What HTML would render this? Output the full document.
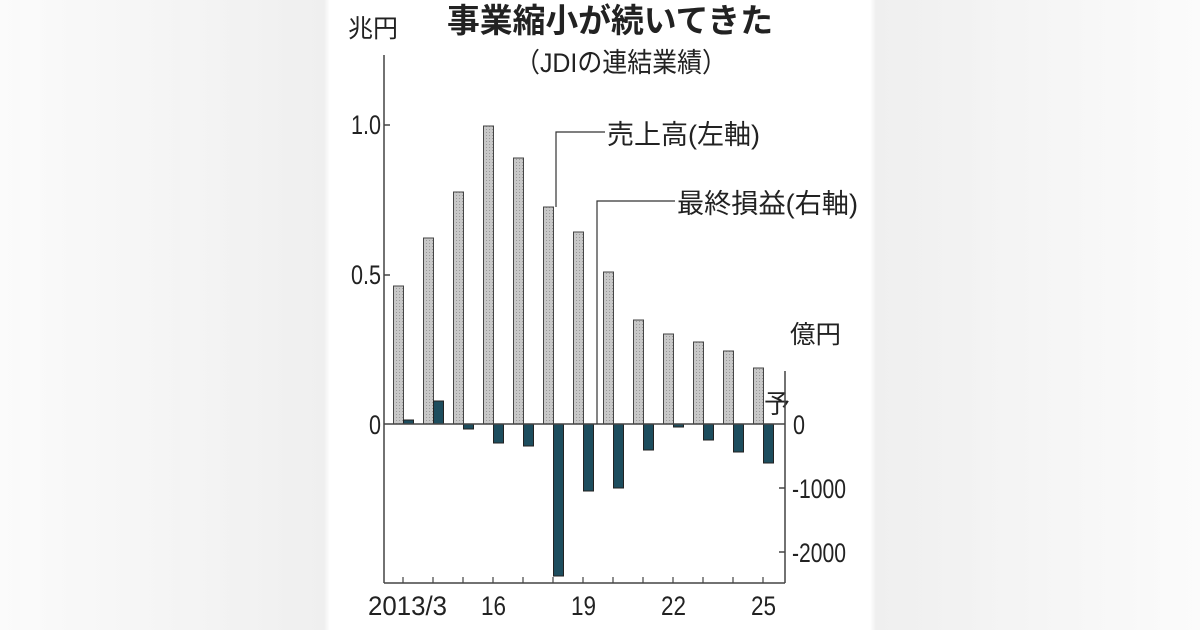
<!DOCTYPE html>
<html><head><meta charset="utf-8"><style>
html,body{margin:0;padding:0;}
body{width:1200px;height:630px;overflow:hidden;background:linear-gradient(90deg,#fbfbfb 0%,#efefef 27%,#fff 27.5%,#fff 72.5%,#efefef 73%,#fbfbfb 100%);}
svg{position:absolute;left:0;top:0;}
text{font-family:"Liberation Sans","Noto Sans CJK JP",sans-serif;fill:#222;}
</style></head><body>
<svg width="1200" height="630" viewBox="0 0 1200 630">
<defs>
<pattern id="dots" width="3" height="3" patternUnits="userSpaceOnUse">
<rect width="3" height="3" fill="#c8c8c8"/><rect width="1" height="1" fill="#9a9a9a"/>
</pattern>
</defs>
<rect x="330" y="0" width="540" height="630" fill="#fff"/>
<text x="610" y="32" font-size="33" font-weight="bold" text-anchor="middle" textLength="326" lengthAdjust="spacingAndGlyphs">事業縮小が続いてきた</text>
<text x="621" y="72" font-size="27" text-anchor="middle" textLength="212" lengthAdjust="spacingAndGlyphs">（JDIの連結業績）</text>
<text x="348" y="37" font-size="25" textLength="50" lengthAdjust="spacingAndGlyphs">兆円</text>
<text x="790" y="343" font-size="25" textLength="51" lengthAdjust="spacingAndGlyphs">億円</text>
<g fill="url(#dots)" stroke="#444" stroke-width="1">
<rect x="393.5" y="286" width="10" height="138"/>
<rect x="423.5" y="238" width="10" height="186"/>
<rect x="453.5" y="192" width="10" height="232"/>
<rect x="483.5" y="126" width="10" height="298"/>
<rect x="513.5" y="158" width="10" height="266"/>
<rect x="543.5" y="207" width="10" height="217"/>
<rect x="573.5" y="232" width="10" height="192"/>
<rect x="603.5" y="272" width="10" height="152"/>
<rect x="633.5" y="320" width="10" height="104"/>
<rect x="663.5" y="334" width="10" height="90"/>
<rect x="693.5" y="342" width="10" height="82"/>
<rect x="723.5" y="351" width="10" height="73"/>
<rect x="753.5" y="368" width="10" height="56"/>
</g>
<g fill="#1d4d5e" stroke="#222" stroke-width="1">
<rect x="403.5" y="420" width="10" height="4"/>
<rect x="433.5" y="401" width="10" height="23"/>
<rect x="463.5" y="424" width="10" height="5"/>
<rect x="493.5" y="424" width="10" height="19"/>
<rect x="523.5" y="424" width="10" height="22"/>
<rect x="553.5" y="424" width="10" height="152"/>
<rect x="583.5" y="424" width="10" height="67"/>
<rect x="613.5" y="424" width="10" height="64"/>
<rect x="643.5" y="424" width="10" height="26"/>
<rect x="673.5" y="424" width="10" height="3"/>
<rect x="703.5" y="424" width="10" height="16"/>
<rect x="733.5" y="424" width="10" height="28"/>
<rect x="763.5" y="424" width="10" height="39"/>
</g>
<rect x="764" y="388" width="20" height="30" fill="#fff"/>
<text x="764" y="413" font-size="26">予</text>
<g stroke="#444" stroke-width="1.5" fill="none">
<line x1="384" y1="55" x2="384" y2="583"/>
<line x1="384" y1="583" x2="785" y2="583"/>
<line x1="785" y1="371" x2="785" y2="583"/>
<line x1="384" y1="424" x2="785" y2="424"/>
<line x1="384" y1="125" x2="390" y2="125"/>
<line x1="384" y1="275" x2="390" y2="275"/>
<line x1="779" y1="488" x2="785" y2="488"/>
<line x1="779" y1="552" x2="785" y2="552"/>
</g>
<g stroke="#444" stroke-width="1.2">
<line x1="403" y1="577" x2="403" y2="583"/><line x1="433" y1="577" x2="433" y2="583"/>
<line x1="463" y1="577" x2="463" y2="583"/><line x1="493" y1="577" x2="493" y2="583"/>
<line x1="523" y1="577" x2="523" y2="583"/><line x1="553" y1="577" x2="553" y2="583"/>
<line x1="583" y1="577" x2="583" y2="583"/><line x1="613" y1="577" x2="613" y2="583"/>
<line x1="643" y1="577" x2="643" y2="583"/><line x1="673" y1="577" x2="673" y2="583"/>
<line x1="703" y1="577" x2="703" y2="583"/><line x1="733" y1="577" x2="733" y2="583"/>
<line x1="763" y1="577" x2="763" y2="583"/>
</g>
<g font-size="27" lengthAdjust="spacingAndGlyphs">
<text x="351" y="134" textLength="30" lengthAdjust="spacingAndGlyphs">1.0</text>
<text x="351" y="284" textLength="30" lengthAdjust="spacingAndGlyphs">0.5</text>
<text x="369" y="434" textLength="12" lengthAdjust="spacingAndGlyphs">0</text>
<text x="793" y="434" textLength="12" lengthAdjust="spacingAndGlyphs">0</text>
<text x="792" y="498" textLength="54" lengthAdjust="spacingAndGlyphs">-1000</text>
<text x="792" y="562" textLength="54" lengthAdjust="spacingAndGlyphs">-2000</text>
<text x="368" y="615" textLength="79" lengthAdjust="spacingAndGlyphs">2013/3</text>
<text x="481" y="615" textLength="25" lengthAdjust="spacingAndGlyphs">16</text>
<text x="571" y="615" textLength="25" lengthAdjust="spacingAndGlyphs">19</text>
<text x="661" y="615" textLength="25" lengthAdjust="spacingAndGlyphs">22</text>
<text x="751" y="615" textLength="25" lengthAdjust="spacingAndGlyphs">25</text>
</g>
<polyline points="556,207 556,132 605,132" fill="none" stroke="#333" stroke-width="1.2"/>
<polyline points="597,424 597,201 675,201" fill="none" stroke="#333" stroke-width="1.2"/>
<text x="607" y="144" font-size="27" textLength="153" lengthAdjust="spacingAndGlyphs">売上高(左軸)</text>
<text x="677" y="213" font-size="27" textLength="181" lengthAdjust="spacingAndGlyphs">最終損益(右軸)</text>
</svg>
</body></html>
